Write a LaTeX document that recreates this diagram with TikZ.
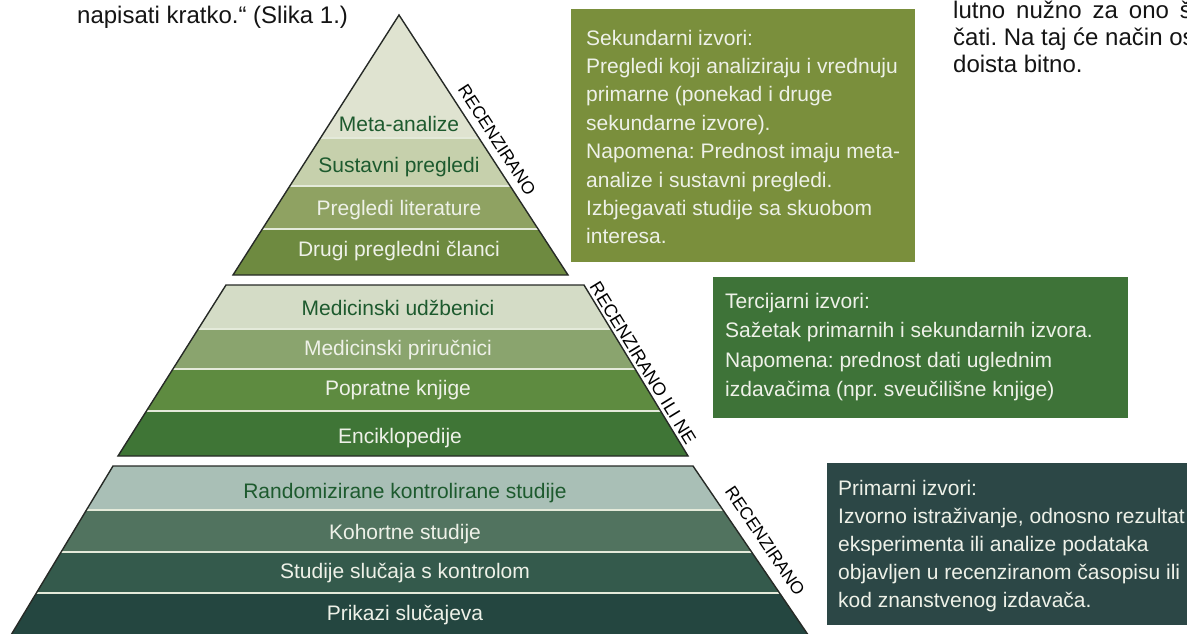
\documentclass[tikz,border=0pt]{standalone}
\usepackage{fontspec}
\setmainfont{Liberation Sans}
\frenchspacing
\usetikzlibrary{calc}
\definecolor{tA}{HTML}{DFE3D0}
\definecolor{tB}{HTML}{C6D0AC}
\definecolor{tC}{HTML}{8FA262}
\definecolor{tD}{HTML}{6E8A40}
\definecolor{mA}{HTML}{D4DCC6}
\definecolor{mB}{HTML}{8AA46E}
\definecolor{mC}{HTML}{5E8B40}
\definecolor{mD}{HTML}{3F7536}
\definecolor{bA}{HTML}{A9BFB6}
\definecolor{bB}{HTML}{51735F}
\definecolor{bC}{HTML}{345A4C}
\definecolor{bD}{HTML}{244640}
\definecolor{secbox}{HTML}{7A8F3C}
\definecolor{terbox}{HTML}{3E7338}
\definecolor{primbox}{HTML}{2C4746}
\definecolor{dgtext}{HTML}{1D5A2E}
\definecolor{lttext}{HTML}{EEF1E8}
\definecolor{septxt}{HTML}{E4EADA}
\definecolor{edge}{HTML}{262A26}
\begin{document}
\begin{tikzpicture}[x=1pt,y=-1pt,
  outline/.style={draw=edge,line width=1.4pt,line join=miter},
  sepline/.style={draw=septxt,line width=2pt},
  lbl/.style={anchor=base,inner sep=0pt,font=\fontsize{21}{25}\selectfont},
  dlbl/.style={lbl,text=dgtext},
  wlbl/.style={lbl,text=lttext},
  rec/.style={inner sep=0pt,font=\fontsize{17.5}{19}\selectfont,text=black},
  boxtxt/.style={anchor=north west,inner sep=0pt,align=left,text=lttext,font=\fontsize{21}{28.4}\selectfont},
  bodytxt/.style={anchor=base west,inner sep=0pt,text=black!92,font=\fontsize{24}{27}\selectfont}
]
\useasboundingbox (0,0) rectangle (1187,633);

% ---------- top section ----------
\begin{scope}
\clip (399,15) -- (568,275) -- (233,275) -- cycle;
\fill[tA] (0,0) rectangle (1187,138);
\fill[tB] (0,138) rectangle (1187,186);
\fill[tC] (0,186) rectangle (1187,229);
\fill[tD] (0,229) rectangle (1187,276);
\draw[sepline] (0,138) -- (1187,138);
\draw[sepline] (0,186) -- (1187,186);
\draw[sepline] (0,229) -- (1187,229);
\end{scope}
\draw[outline] (399,15) -- (568,275) -- (233,275) -- cycle;

% ---------- middle section ----------
\begin{scope}
\clip (226,285) -- (584,285) -- (688,456) -- (118,456) -- cycle;
\fill[mA] (0,280) rectangle (1187,329);
\fill[mB] (0,329) rectangle (1187,369);
\fill[mC] (0,369) rectangle (1187,411);
\fill[mD] (0,411) rectangle (1187,460);
\draw[sepline] (0,329) -- (1187,329);
\draw[sepline] (0,369) -- (1187,369);
\draw[sepline] (0,411) -- (1187,411);
\end{scope}
\draw[outline] (226,285) -- (584,285) -- (688,456) -- (118,456) -- cycle;

% ---------- bottom section ----------
\begin{scope}
\clip (113,466) -- (693,466) -- (815,645) -- (5,645) -- cycle;
\fill[bA] (0,460) rectangle (1187,510);
\fill[bB] (0,510) rectangle (1187,552);
\fill[bC] (0,552) rectangle (1187,593);
\fill[bD] (0,593) rectangle (1187,650);
\draw[sepline] (0,510) -- (1187,510);
\draw[sepline] (0,552) -- (1187,552);
\draw[sepline] (0,593) -- (1187,593);
\end{scope}
\draw[outline] (5,645) -- (113,466) -- (693,466) -- (815,645);

% ---------- pyramid labels ----------
\node[dlbl] (meta) at (399,131.5) {Meta-analize};
\node[dlbl] (sust) at (399,172.5) {Sustavni pregledi};
\node[wlbl] (plit) at (399,215) {Pregledi literature};
\node[wlbl] (drugi) at (399,256.5) {Drugi pregledni članci};

\node[dlbl] (udz) at (398,315) {Medicinski udžbenici};
\node[wlbl] (pri) at (398,355) {Medicinski priručnici};
\node[wlbl] (pop) at (398,395) {Popratne knjige};
\node[wlbl] (enc) at (400,443) {Enciklopedije};

\node[dlbl] (rand) at (405,498) {Randomizirane kontrolirane studije};
\node[wlbl] (koh) at (405,539.5) {Kohortne studije};
\node[wlbl] (stud) at (405,578.5) {Studije slučaja s kontrolom};
\node[wlbl] (prik) at (405,620) {Prikazi slučajeva};

% ---------- side labels ----------
\node[rec,rotate=-57] (rec1) at (497,140) {RECENZIRANO};
\node[rec,rotate=-58.5,font=\fontsize{18}{19}\selectfont] (rec2) at (643,363) {RECENZIRANO ILI NE};
\node[rec,rotate=-56] (rec3) at (765,541) {RECENZIRANO};

% ---------- boxes ----------
\fill[secbox] (571,9) rectangle (915,262);
\node[boxtxt] (sectext) at (586,29.7) {Sekundarni izvori:\\
Pregledi koji analiziraju i vrednuju\\
primarne (ponekad i druge\\
sekundarne izvore).\\
Napomena: Prednost imaju meta-\\
analize i sustavni pregledi.\\
Izbjegavati studije sa skuobom\\
interesa.};

\fill[terbox] (713,277) rectangle (1128,418);
\node[boxtxt,font=\fontsize{21}{29.5}\selectfont] (tertext) at (725,292.7) {Tercijarni izvori:\\
Sažetak primarnih i sekundarnih izvora.\\
Napomena: prednost dati uglednim\\
izdavačima (npr. sveučilišne knjige)};

\fill[primbox] (827,463) rectangle (1195,625);
\node[boxtxt,font=\fontsize{21}{28}\selectfont] (primtext) at (838,479.7) {Primarni izvori:\\
Izvorno istraživanje, odnosno rezultat\\
eksperimenta ili analize podataka\\
objavljen u recenziranom časopisu ili\\
kod znanstvenog izdavača.};

% ---------- surrounding body text ----------
\node[bodytxt] (body1) at (77,23) {napisati kratko.“ (Slika 1.)};
\node[bodytxt] (body2) at (953,18) {\spaceskip=11pt lutno nužno za ono š};
\node[bodytxt] (body3) at (953,45) {čati. Na taj će način os};
\node[bodytxt] (body4) at (953,72) {doista bitno.};
\end{tikzpicture}
\end{document}
